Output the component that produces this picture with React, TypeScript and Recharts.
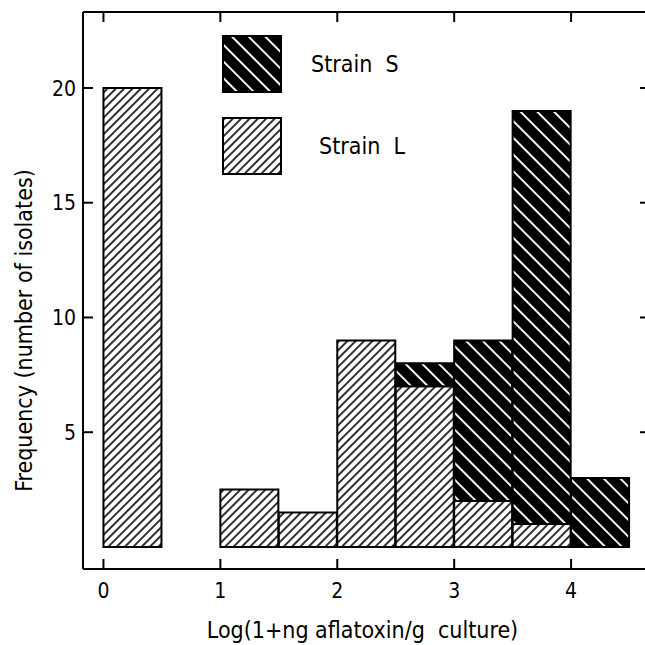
import React from "react";
import {
  ComposedChart, Bar, XAxis, YAxis, Legend,
} from "recharts";

// left edges of the histogram bins, log(1+ng aflatoxin/g culture), width 0.5
const binStart = [0, 0.5, 1, 1.5, 2, 2.5, 3, 3.5, 4];
const strainL = [20, 0, 2.5, 1.5, 9, 7, 2, 1, 0];
const strainS = [0, 0, 0, 0, 0, 1, 7, 18, 3];
const xTicks = [0, 1, 2, 3, 4];
const yTicks = [5, 10, 15, 20];

const BIN_W = 0.5;
const data = binStart.map((b, i) => ({ mid: b + BIN_W / 2, L: strainL[i], S: strainS[i] }));

const FONT = "'DejaVu Sans Condensed', 'DejaVu Sans', sans-serif";
const X_DOMAIN = [-0.175, 4.675];
const Y_DOMAIN = [-0.96, 23.31];

const BottomTick = (props: any) => {
  const { x, y, payload } = props;
  return (
    <g>
      <line x1={x} x2={x} y1={y} y2={y - 10} stroke="#000" strokeWidth={2} />
      <text x={x} y={y + 29} textAnchor="middle" fontSize={21} fontFamily={FONT} fill="#000">
        {payload.value}
      </text>
    </g>
  );
};

const TopTick = (props: any) => {
  const { x, y } = props;
  return <line x1={x} x2={x} y1={y} y2={y + 10} stroke="#000" strokeWidth={2} />;
};

const LeftTick = (props: any) => {
  const { x, y, payload } = props;
  return (
    <g>
      <line x1={x} x2={x + 10} y1={y} y2={y} stroke="#000" strokeWidth={2} />
      <text x={x - 7} y={y} dy="0.36em" textAnchor="end" fontSize={21} fontFamily={FONT} fill="#000">
        {payload.value}
      </text>
    </g>
  );
};

const RightTick = (props: any) => {
  const { x, y } = props;
  return <line x1={x} x2={x - 10} y1={y} y2={y} stroke="#000" strokeWidth={2} />;
};

const XLabel = (props: any) => {
  const { viewBox } = props;
  const cx = viewBox.x + viewBox.width / 2 - 4;
  return (
    <text x={cx} y={viewBox.y + 69} textAnchor="middle" fontSize={23} fontFamily={FONT} fill="#000" style={{ whiteSpace: "pre" }}>
      Log(1+ng aflatoxin/g  culture)
    </text>
  );
};

const YLabel = (props: any) => {
  const { viewBox } = props;
  const cx = viewBox.x + 32;
  const cy = viewBox.y + viewBox.height / 2 + 40;
  return (
    <text x={cx} y={cy} transform={`rotate(-90, ${cx}, ${cy})`} textAnchor="middle" fontSize={23} fontFamily={FONT} fill="#000">
      Frequency (number of isolates)
    </text>
  );
};

const LegendBox = ({ fill, label, dx, dy }: { fill: string; label: string; dx: number; dy: number }) => (
  <div style={{ display: "flex", alignItems: "center", marginTop: dy }}>
    <svg width={60} height={58} style={{ display: "block" }}>
      <rect x={1} y={1} width={58} height={56} fill={fill} stroke="#000" strokeWidth={2} />
    </svg>
    <span style={{ marginLeft: dx, fontFamily: FONT, fontSize: 23, color: "#000", whiteSpace: "pre" }}>
      {label}
    </span>
  </div>
);

const renderLegend = () => (
  <div>
    <LegendBox fill="url(#hatchS)" label="Strain  S" dx={29} dy={0} />
    <LegendBox fill="url(#hatchL)" label="Strain  L" dx={37} dy={24} />
  </div>
);

export default function App() {
  return (
    <div style={{ position: "absolute", left: 0, top: 0, width: 645, height: 645, overflow: "hidden", background: "#fff" }}>
      <svg width={0} height={0} style={{ position: "absolute" }}>
        <defs>
          <pattern id="hatchL" patternUnits="userSpaceOnUse" width={5.9} height={5.9} patternTransform="rotate(45)">
            <rect width={5.9} height={5.9} fill="#fff" />
            <line x1={2.95} x2={2.95} y1={0} y2={5.9} stroke="#000" strokeWidth={1.6} />
          </pattern>
          <pattern id="hatchS" patternUnits="userSpaceOnUse" width={11.8} height={11.8} patternTransform="rotate(-45)">
            <rect width={11.8} height={11.8} fill="#000" />
            <line x1={5.9} x2={5.9} y1={0} y2={11.8} stroke="#fff" strokeWidth={1.9} />
          </pattern>
        </defs>
      </svg>
      <ComposedChart
        width={660}
        height={645}
        data={data}
        margin={{ top: 11, right: 9, bottom: 0, left: 0 }}
        barCategoryGap={0}
      >
        <XAxis
          xAxisId="num"
          dataKey="mid"
          type="number"
          orientation="bottom"
          domain={X_DOMAIN}
          ticks={xTicks}
          allowDataOverflow
          height={76}
          tickSize={0}
          tickMargin={0}
          tickLine={false}
          tick={<BottomTick />}
          axisLine={{ stroke: "#000", strokeWidth: 2 }}
          label={<XLabel />}
        />
        <XAxis
          xAxisId="top"
          dataKey="mid"
          type="number"
          orientation="top"
          domain={X_DOMAIN}
          ticks={xTicks}
          allowDataOverflow
          height={1}
          tickSize={0}
          tickMargin={0}
          tickLine={false}
          tick={<TopTick />}
          axisLine={{ stroke: "#000", strokeWidth: 2 }}
        />
        <YAxis
          yAxisId="left"
          type="number"
          domain={Y_DOMAIN}
          ticks={yTicks}
          allowDataOverflow
          width={83}
          tickSize={0}
          tickMargin={0}
          tickLine={false}
          tick={<LeftTick />}
          axisLine={{ stroke: "#000", strokeWidth: 2 }}
          label={<YLabel />}
        />
        <YAxis
          yAxisId="right"
          orientation="right"
          type="number"
          domain={Y_DOMAIN}
          ticks={yTicks}
          allowDataOverflow
          width={1}
          tickSize={0}
          tickMargin={0}
          tickLine={false}
          tick={<RightTick />}
          axisLine={{ stroke: "#000", strokeWidth: 2 }}
        />
        <Legend
          layout="vertical"
          align="center"
          verticalAlign="middle"
          content={renderLegend}
          wrapperStyle={{ left: 222, top: 35, width: 260 }}
        />
        <Bar
          dataKey="L"
          stackId="a"
          xAxisId="num"
          yAxisId="left"
          fill="url(#hatchL)"
          stroke="#000"
          strokeWidth={2}
          isAnimationActive={false}
        />
        <Bar
          dataKey="S"
          stackId="a"
          xAxisId="num"
          yAxisId="left"
          fill="url(#hatchS)"
          stroke="#000"
          strokeWidth={2}
          isAnimationActive={false}
        />
      </ComposedChart>
    </div>
  );
}
